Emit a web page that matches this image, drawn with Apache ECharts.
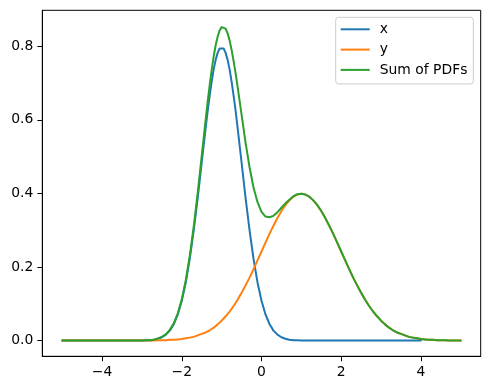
<!DOCTYPE html>
<html>
<head>
<meta charset="utf-8">
<script src="https://cdn.jsdelivr.net/npm/echarts@6/dist/echarts.min.js"></script>
<style>html,body{margin:0;padding:0;background:#fff}#c{width:490px;height:390px}</style>
</head>
<body>
<div id="c"></div>
<script>
// x positions (step 0.1 from -5 to 5)
const xStart = -5, xStep = 0.1;
const seriesNames = ['x', 'y', 'Sum of PDFs'];
const xTicks = [-4, -2, 0, 2, 4];
const yTicks = [0, 0.2, 0.4, 0.6, 0.8];

// values
const pdfX = [
  0,0,0,0,0,0,0,0,0,0, 0,0,0,0,0,0,0,0,0,0,
  0.000,0.001,0.001,0.002,0.005,0.009,0.016,0.027,0.045,0.071,
  0.108,0.158,0.222,0.300,0.388,0.484,0.579,0.666,0.737,0.782,
  0.798,0.782,0.737,0.666,0.579,0.484,0.388,0.300,0.222,0.158,
  0.108,0.071,0.045,0.027,0.016,0.009,0.005,0.002,0.001,0.001,
  0.000,0,0,0,0,0,0,0,0,0, 0,0,0,0,0,0,0,0,0,0,
  0,0,0,0,0,0,0,0,0,0, 0
];
const pdfY = [
  0,0,0,0,0,0,0,0,0,0, 0,0,0,0,0,0,0,0,0,0,
  0.000,0.000,0.000,0.000,0.001,0.001,0.001,0.002,0.002,0.003,
  0.004,0.006,0.008,0.010,0.014,0.018,0.022,0.028,0.035,0.044,
  0.054,0.066,0.079,0.094,0.111,0.130,0.150,0.171,0.194,0.218,
  0.242,0.266,0.290,0.312,0.333,0.352,0.368,0.381,0.391,0.397,
  0.399,0.397,0.391,0.381,0.368,0.352,0.333,0.312,0.290,0.266,
  0.242,0.218,0.194,0.171,0.150,0.130,0.111,0.094,0.079,0.066,
  0.054,0.044,0.035,0.028,0.022,0.018,0.014,0.010,0.008,0.006,
  0.004,0.003,0.002,0.002,0.001,0.001,0.001,0.000,0.000,0.000,
  0.000
];
const pdfSum = [
  0,0,0,0,0,0,0,0,0,0, 0,0,0,0,0,0,0,0,0,0,
  0.000,0.001,0.001,0.002,0.006,0.010,0.017,0.029,0.047,0.074,
  0.112,0.164,0.230,0.310,0.402,0.502,0.601,0.694,0.772,0.826,
  0.852,0.848,0.816,0.760,0.690,0.614,0.538,0.471,0.416,0.376,
  0.350,0.337,0.335,0.339,0.349,0.361,0.373,0.383,0.392,0.398,
  0.399,0.397,0.391,0.381,0.368,0.352,0.333,0.312,0.290,0.266,
  0.242,0.218,0.194,0.171,0.150,0.130,0.111,0.094,0.079,0.066,
  0.054,0.044,0.035,0.028,0.022,0.018,0.014,0.010,0.008,0.006,
  0.004,0.003,0.002,0.002,0.001,0.001,0.001,0.000,0.000,0.000,
  0.000
];

// extra readings around the tall peak (half steps)
const peakXs   = [-1.35, -1.25, -1.15, -1.05, -0.95, -0.85, -0.75, -0.65];
const peakX    = [0.625, 0.704, 0.763, 0.794, 0.794, 0.763, 0.704, 0.625];
const peakY    = [0.025, 0.032, 0.040, 0.049, 0.060, 0.072, 0.086, 0.102];
const peakSum  = [0.650, 0.736, 0.803, 0.843, 0.854, 0.835, 0.790, 0.727];

const colors = ['#1f77b4', '#ff7f0e', '#2ca02c'];
const FONT = 'DejaVu Sans';
function pairs(arr, extra) {
  const p = arr.map((v, i) => [+(xStart + i * xStep).toFixed(2), v]);
  extra.forEach((v, i) => p.push([peakXs[i], v]));
  return p.sort((a, b) => a[0] - b[0]);
}

const chart = echarts.init(document.getElementById('c'), null, {renderer: 'canvas'});
chart.setOption({
  animation: false,
  color: colors,
  grid: {left: 42.3, right: 9.3, top: 10.3, bottom: 33.7, show: true, borderColor: '#000', borderWidth: 1, containLabel: false},
  legend: {
    orient: 'vertical', left: 335.7, top: 17.3,
    icon: 'rect', itemWidth: 29, itemHeight: 2, itemGap: 6.3,
    padding: [5, 6, 7, 5],
    backgroundColor: 'rgba(255,255,255,0.8)', borderColor: '#cccccc', borderWidth: 1, borderRadius: 3,
    textStyle: {fontFamily: FONT, fontSize: 13.9, color: '#000', lineHeight: 14, padding: [0, 0, 0, 5]},
    data: seriesNames
  },
  xAxis: {
    type: 'value', min: -5.5, max: 5.5,
    axisLine: {show: true, onZero: false, lineStyle: {color: '#000', width: 1}},
    axisTick: {show: true, length: 4.9, customValues: xTicks, lineStyle: {color: '#000'}},
    axisLabel: {customValues: xTicks, margin: 9, fontFamily: FONT, fontSize: 13.9, color: '#000',
      formatter: v => String(v).replace('-', '\u2212')},
    splitLine: {show: false}
  },
  yAxis: {
    type: 'value', min: -0.0428, max: 0.8977,
    axisLine: {show: true, onZero: false, lineStyle: {color: '#000', width: 1}},
    axisTick: {show: true, length: 4.9, customValues: yTicks, lineStyle: {color: '#000'}},
    axisLabel: {customValues: yTicks, margin: 9, fontFamily: FONT, fontSize: 13.9, color: '#000',
      formatter: v => v.toFixed(1)},
    splitLine: {show: false}
  },
  series: [[pdfX, peakX], [pdfY, peakY], [pdfSum, peakSum]].map((a, k) => ({
    name: seriesNames[k], type: 'line', data: pairs(a[0], a[1]),
    showSymbol: false, symbol: 'none', smooth: false,
    lineStyle: {width: 2, color: colors[k], join: 'round', cap: 'round'}, itemStyle: {color: colors[k]}
  }))
});
</script>
</body>
</html>
